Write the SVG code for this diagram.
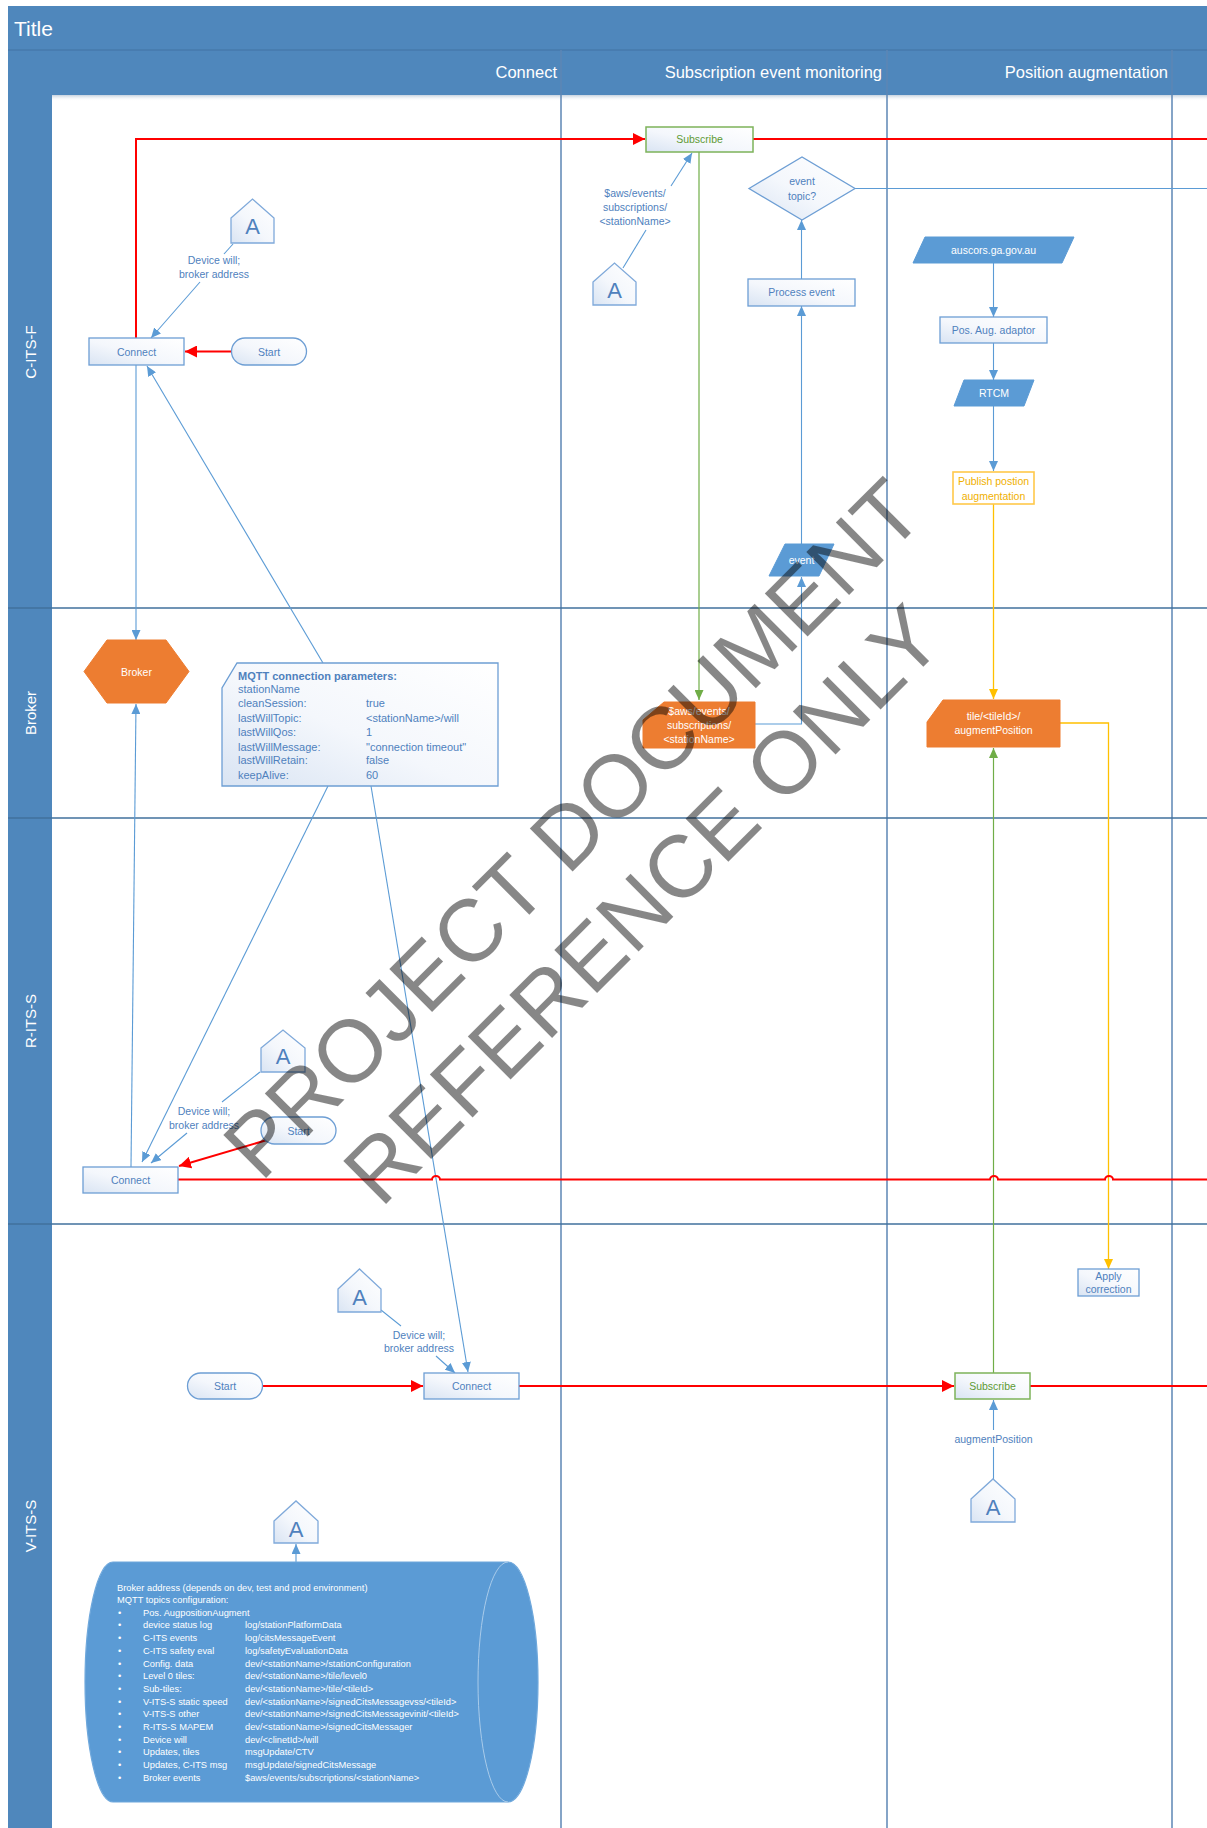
<svg xmlns="http://www.w3.org/2000/svg" width="1207" height="1828" viewBox="0 0 1207 1828">
<defs>
<style>
text{font-family:"Liberation Sans",Arial,sans-serif}
.band{fill:#4F87BC}
.hdr{font-size:16.5px;fill:#fff;text-anchor:end}
.lane{font-size:15px;fill:#fff;text-anchor:middle}
.div{stroke:#41719C;stroke-width:1.6;fill:none}
.col{stroke:#5C86B4;stroke-width:1.5;fill:none}
.box{fill:url(#gBox);stroke:#6D9ED4;stroke-width:1.3}
.gbox{fill:url(#gBox);stroke:#7DB35A;stroke-width:1.5}
.ybox{fill:#fff;stroke:#FFC94A;stroke-width:1.6}
.fill{fill:#5B9BD5;stroke:#5B9BD5;stroke-width:1}
.org{fill:#ED7D31;stroke:#ED7D31;stroke-width:1}
.off{fill:url(#gBox);stroke:#7FA9DA;stroke-width:1.3}
.t{font-size:10.5px;fill:#4F81BD;text-anchor:middle}
.tw{font-size:10.5px;fill:#fff;text-anchor:middle}
.tg{font-size:10.5px;fill:#5E9A34;text-anchor:middle}
.ty{font-size:10.5px;fill:#F0B000;text-anchor:middle}
.aT{font-size:22px;fill:#4F81BD;text-anchor:middle}
.m{font-size:11px;fill:#4F81BD}
.cy{font-size:9.3px;fill:#fff}
.c{stroke:#5B9BD5;stroke-width:1.1;fill:none}
.cA{stroke:#5B9BD5;stroke-width:1.1;fill:none;marker-end:url(#aB)}
.r{stroke:#FF0000;stroke-width:2;fill:none}
.rA{stroke:#FF0000;stroke-width:2;fill:none;marker-end:url(#aR)}
.gA{stroke:#70AD47;stroke-width:1.2;fill:none;marker-end:url(#aG)}
.y{stroke:#FFC000;stroke-width:1.3;fill:none}
.yA{stroke:#FFC000;stroke-width:1.3;fill:none;marker-end:url(#aY)}
.wm{font-size:88px;fill:#000;fill-opacity:0.47;text-anchor:middle}
</style>
<linearGradient id="gBox" x1="1" y1="0" x2="0" y2="1">
<stop offset="0" stop-color="#ffffff"/>
<stop offset="0.55" stop-color="#f4f7fc"/>
<stop offset="1" stop-color="#d9e4f3"/>
</linearGradient>
<linearGradient id="gSh" x1="0" y1="0" x2="0" y2="1">
<stop offset="0" stop-color="#9fb3c9" stop-opacity="0.6"/>
<stop offset="1" stop-color="#ffffff" stop-opacity="0"/>
</linearGradient>
<marker id="aB" markerUnits="userSpaceOnUse" markerWidth="10" markerHeight="9" refX="10" refY="4.5" orient="auto"><path d="M0,0 L10,4.5 L0,9 Z" fill="#5B9BD5"/></marker>
<marker id="aR" markerUnits="userSpaceOnUse" markerWidth="12" markerHeight="12" refX="12" refY="6" orient="auto"><path d="M0,0 L12,6 L0,12 Z" fill="#FF0000"/></marker>
<marker id="aG" markerUnits="userSpaceOnUse" markerWidth="10" markerHeight="9" refX="10" refY="4.5" orient="auto"><path d="M0,0 L10,4.5 L0,9 Z" fill="#70AD47"/></marker>
<marker id="aY" markerUnits="userSpaceOnUse" markerWidth="10" markerHeight="9" refX="10" refY="4.5" orient="auto"><path d="M0,0 L10,4.5 L0,9 Z" fill="#FFC000"/></marker>
</defs>

<rect x="0" y="0" width="1207" height="1828" fill="#fff"/>

<g id="swimlanes">
<rect class="band" x="8" y="6" width="1199" height="44"/>
<rect class="band" x="8" y="50" width="1199" height="45"/>
<line x1="8" y1="50" x2="1207" y2="50" stroke="#4272A3" stroke-width="1"/>
<rect x="52" y="95" width="1155" height="6" fill="url(#gSh)"/>
<rect class="band" x="8" y="95" width="44" height="1733"/>
<text x="14" y="36" font-size="21" fill="#fff">Title</text>
<text class="hdr" x="557" y="78">Connect</text>
<text class="hdr" x="882" y="78">Subscription event monitoring</text>
<text class="hdr" x="1168" y="78">Position augmentation</text>
<line class="col" x1="561" y1="50" x2="561" y2="1828"/>
<line class="col" x1="887" y1="50" x2="887" y2="1828"/>
<line class="col" x1="1172" y1="50" x2="1172" y2="1828"/>
<line class="div" x1="8" y1="608" x2="1207" y2="608"/>
<line class="div" x1="8" y1="818" x2="1207" y2="818"/>
<line class="div" x1="8" y1="1224" x2="1207" y2="1224"/>
<text class="lane" transform="translate(36,352) rotate(-90)">C-ITS-F</text>
<text class="lane" transform="translate(36,713) rotate(-90)">Broker</text>
<text class="lane" transform="translate(36,1021) rotate(-90)">R-ITS-S</text>
<text class="lane" transform="translate(36,1526) rotate(-90)">V-ITS-S</text>
</g>

<g id="connectors">
<path class="rA" d="M136,338 V139 H645"/>
<path class="r" d="M753,139 H1207"/>
<path class="rA" d="M231,351.5 H185"/>
<path class="c" d="M233,244 L224,254"/>
<path class="cA" d="M200,282 L151,338"/>
<text class="t" x="214" y="264">Device will;</text>
<text class="t" x="214" y="278">broker address</text>
<path class="c" d="M623,268 L646,230"/>
<path class="cA" d="M671,186 L692,153"/>
<text class="t" x="635" y="197">$aws/events/</text>
<text class="t" x="635" y="211">subscriptions/</text>
<text class="t" x="635" y="225">&lt;stationName&gt;</text>
<path class="gA" d="M699,152 V700"/>
<path class="cA" d="M755,724 H801.5 V577"/>
<path class="cA" d="M801.5,544 V306"/>
<path class="cA" d="M801.5,279 V220"/>
<path class="c" d="M855,188.5 H1207"/>
<path class="cA" d="M993.5,263 V317"/>
<path class="cA" d="M993.5,343 V380"/>
<path class="cA" d="M993.5,406 V471"/>
<path class="yA" d="M993.5,504 V699"/>
<path class="yA" d="M1060,723 H1108.5 V1269"/>
<path class="gA" d="M993.5,1373 V748"/>
<path class="c" d="M993.5,1479 V1447"/>
<path class="cA" d="M993.5,1430 V1400"/>
<text class="t" x="993.5" y="1443">augmentPosition</text>
<path class="cA" d="M136,365 V640"/>
<path class="cA" d="M131,1167 L136,704"/>
<path class="cA" d="M323,663 L147,366"/>
<path class="cA" d="M328,786 L142,1162"/>
<path class="cA" d="M371,786 L468,1372"/>
<path class="c" d="M260,1072 L222,1102"/>
<path class="cA" d="M187,1133 L151,1163"/>
<text class="t" x="204" y="1115">Device will;</text>
<text class="t" x="204" y="1129">broker address</text>
<path class="rA" d="M267,1140 L179,1166"/>
<path class="r" d="M178,1179.5 H432 a4,3.5 0 0 1 8,0 H990 a4,3.5 0 0 1 8,0 H1105 a4,3.5 0 0 1 8,0 H1207"/>
<path class="rA" d="M262,1386 H423"/>
<path class="rA" d="M519,1386 H954"/>
<path class="r" d="M1030,1386 H1207"/>
<path class="c" d="M381,1310 L401,1326"/>
<path class="cA" d="M436,1356 L455,1373"/>
<text class="t" x="419" y="1339">Device will;</text>
<text class="t" x="419" y="1352">broker address</text>
<path class="cA" d="M296,1562 V1544"/>
</g>

<g id="c-connect"><rect class="box" x="89" y="338" width="95" height="27"/><text class="t" x="136.5" y="355.5">Connect</text></g>
<g id="c-start"><rect class="box" x="231.5" y="338" width="75" height="27" rx="13.5"/><text class="t" x="269" y="355.5">Start</text></g>
<g id="c-a"><path class="off" d="M231,218 L252.5,199 L274,218 L274,243 L231,243 Z"/><text class="aT" x="252.5" y="234">A</text></g>
<g id="sub-a"><path class="off" d="M593,282 L614.5,263 L636,282 L636,305 L593,305 Z"/><text class="aT" x="614.5" y="298">A</text></g>
<g id="c-subscribe"><rect class="gbox" x="646" y="127" width="107" height="25"/><text class="tg" x="699.5" y="143">Subscribe</text></g>
<g id="event-topic"><path class="box" d="M749,188.5 L802,157 L855,188.5 L802,220 Z"/><text class="t" x="802" y="185">event</text><text class="t" x="802" y="200">topic?</text></g>
<g id="process-event"><rect class="box" x="748" y="279" width="107" height="27"/><text class="t" x="801.5" y="296">Process event</text></g>
<g id="event"><path class="fill" d="M769,576 L785,544 L834,544 L819,576 Z"/><text class="tw" x="801.5" y="564">event</text></g>
<g id="auscors"><path class="fill" d="M913,263 L925,237 L1074,237 L1062,263 Z"/><text class="tw" x="993.5" y="254">auscors.ga.gov.au</text></g>
<g id="pos-aug"><rect class="box" x="940" y="317" width="107" height="26"/><text class="t" x="993.5" y="334">Pos. Aug. adaptor</text></g>
<g id="rtcm"><path class="fill" d="M954,406 L964,380 L1034,380 L1024,406 Z"/><text class="tw" x="994" y="397">RTCM</text></g>
<g id="publish"><rect class="ybox" x="953" y="472" width="81" height="32"/><text class="ty" x="993.5" y="485">Publish postion</text><text class="ty" x="993.5" y="500">augmentation</text></g>
<g id="broker"><path class="org" d="M84,671.5 L107,640 L166,640 L189,671.5 L166,703 L107,703 Z"/><text class="tw" x="136.5" y="675.5">Broker</text></g>
<g id="saws"><path class="org" d="M643,720 L664,702 L755,702 L755,748 L643,748 Z"/><text class="tw" x="699" y="715">$aws/events/</text><text class="tw" x="699" y="729">subscriptions/</text><text class="tw" x="699" y="743">&lt;stationName&gt;</text></g>
<g id="tile"><path class="org" d="M927,722 L943,700 L1060,700 L1060,747 L927,747 Z"/><text class="tw" x="993.5" y="720">tile/&lt;tileId&gt;/</text><text class="tw" x="993.5" y="734">augmentPosition</text></g>
<g id="mqtt-params"><path class="box" d="M237,663 L498,663 L498,786 L222,786 L222,688 Z"/>
<text class="m" x="238" y="680" font-weight="bold">MQTT connection parameters:</text>
<text class="m" x="238" y="693">stationName</text>
<text class="m" x="238" y="707">cleanSession:</text><text class="m" x="366" y="707">true</text>
<text class="m" x="238" y="722">lastWillTopic:</text><text class="m" x="366" y="722">&lt;stationName&gt;/will</text>
<text class="m" x="238" y="736">lastWillQos:</text><text class="m" x="366" y="736">1</text>
<text class="m" x="238" y="751">lastWillMessage:</text><text class="m" x="366" y="751">"connection timeout"</text>
<text class="m" x="238" y="764">lastWillRetain:</text><text class="m" x="366" y="764">false</text>
<text class="m" x="238" y="779">keepAlive:</text><text class="m" x="366" y="779">60</text>
</g>
<g id="r-connect"><rect class="box" x="83" y="1167" width="95" height="26"/><text class="t" x="130.5" y="1184">Connect</text></g>
<g id="r-start"><rect class="box" x="261" y="1117" width="75" height="27" rx="13.5"/><text class="t" x="298.5" y="1134.5">Start</text></g>
<g id="r-a"><path class="off" d="M261,1048 L283,1030 L305,1048 L305,1072 L261,1072 Z"/><text class="aT" x="283" y="1064">A</text></g>
<g id="v-a"><path class="off" d="M338,1289 L359.5,1269 L381,1289 L381,1312 L338,1312 Z"/><text class="aT" x="359.5" y="1305">A</text></g>
<g id="v-start"><rect class="box" x="187.5" y="1373" width="75" height="26" rx="13"/><text class="t" x="225" y="1390">Start</text></g>
<g id="v-connect"><rect class="box" x="424" y="1373" width="95" height="26"/><text class="t" x="471.5" y="1390">Connect</text></g>
<g id="v-subscribe"><rect class="gbox" x="955" y="1373" width="75" height="26"/><text class="tg" x="992.5" y="1390">Subscribe</text></g>
<g id="apply-correction"><rect class="box" x="1078" y="1269" width="61" height="27"/><text class="t" x="1108.5" y="1280">Apply</text><text class="t" x="1108.5" y="1293">correction</text></g>
<g id="pos-a"><path class="off" d="M971,1499 L993,1479 L1015,1499 L1015,1522 L971,1522 Z"/><text class="aT" x="993" y="1515">A</text></g>
<g id="cfg-a"><path class="off" d="M274,1521 L296,1501 L318,1521 L318,1543 L274,1543 Z"/><text class="aT" x="296" y="1537">A</text></g>
<g id="mqtt-config">
<path d="M113,1562 L508,1562 A30,120 0 0 1 508,1802 L113,1802 A28,120 0 0 1 113,1562 Z" fill="#5B9BD5" stroke="#6FA8DC" stroke-width="1.2"/>
<path d="M508,1562 A30,120 0 0 0 508,1802" fill="none" stroke="#A9CBEA" stroke-width="1"/>
<text class="cy" x="117" y="1590.5">Broker address (depends on dev, test and prod environment)</text>
<text class="cy" x="117" y="1602.5">MQTT topics configuration:</text>
<g class="cy">
<text class="cy" x="118" y="1615.5">•</text><text class="cy" x="143" y="1615.5">Pos. AugpositionAugment</text>
<text class="cy" x="118" y="1627.5">•</text><text class="cy" x="143" y="1627.5">device status log</text><text class="cy" x="245" y="1627.5">log/stationPlatformData</text>
<text class="cy" x="118" y="1640.5">•</text><text class="cy" x="143" y="1640.5">C-ITS events</text><text class="cy" x="245" y="1640.5">log/citsMessageEvent</text>
<text class="cy" x="118" y="1653.5">•</text><text class="cy" x="143" y="1653.5">C-ITS safety eval</text><text class="cy" x="245" y="1653.5">log/safetyEvaluationData</text>
<text class="cy" x="118" y="1666.5">•</text><text class="cy" x="143" y="1666.5">Config. data</text><text class="cy" x="245" y="1666.5">dev/&lt;stationName&gt;/stationConfiguration</text>
<text class="cy" x="118" y="1678.5">•</text><text class="cy" x="143" y="1678.5">Level 0 tiles:</text><text class="cy" x="245" y="1678.5">dev/&lt;stationName&gt;/tile/level0</text>
<text class="cy" x="118" y="1691.5">•</text><text class="cy" x="143" y="1691.5">Sub-tiles:</text><text class="cy" x="245" y="1691.5">dev/&lt;stationName&gt;/tile/&lt;tileId&gt;</text>
<text class="cy" x="118" y="1704.5">•</text><text class="cy" x="143" y="1704.5">V-ITS-S static speed</text><text class="cy" x="245" y="1704.5">dev/&lt;stationName&gt;/signedCitsMessagevss/&lt;tileId&gt;</text>
<text class="cy" x="118" y="1716.5">•</text><text class="cy" x="143" y="1716.5">V-ITS-S other</text><text class="cy" x="245" y="1716.5">dev/&lt;stationName&gt;/signedCitsMessagevinit/&lt;tileId&gt;</text>
<text class="cy" x="118" y="1729.5">•</text><text class="cy" x="143" y="1729.5">R-ITS-S MAPEM</text><text class="cy" x="245" y="1729.5">dev/&lt;stationName&gt;/signedCitsMessager</text>
<text class="cy" x="118" y="1742.5">•</text><text class="cy" x="143" y="1742.5">Device will</text><text class="cy" x="245" y="1742.5">dev/&lt;clinetId&gt;/will</text>
<text class="cy" x="118" y="1754.5">•</text><text class="cy" x="143" y="1754.5">Updates, tiles</text><text class="cy" x="245" y="1754.5">msgUpdate/CTV</text>
<text class="cy" x="118" y="1767.5">•</text><text class="cy" x="143" y="1767.5">Updates, C-ITS msg</text><text class="cy" x="245" y="1767.5">msgUpdate/signedCitsMessage</text>
<text class="cy" x="118" y="1780.5">•</text><text class="cy" x="143" y="1780.5">Broker events</text><text class="cy" x="245" y="1780.5">$aws/events/subscriptions/&lt;stationName&gt;</text>
</g>
</g>

<g id="watermark">
<text class="wm" transform="translate(594,850) rotate(-45)">PROJECT DOCUMENT</text>
<text class="wm" transform="translate(664,926) rotate(-45)">REFERENCE ONLY</text>
</g>
</svg>
